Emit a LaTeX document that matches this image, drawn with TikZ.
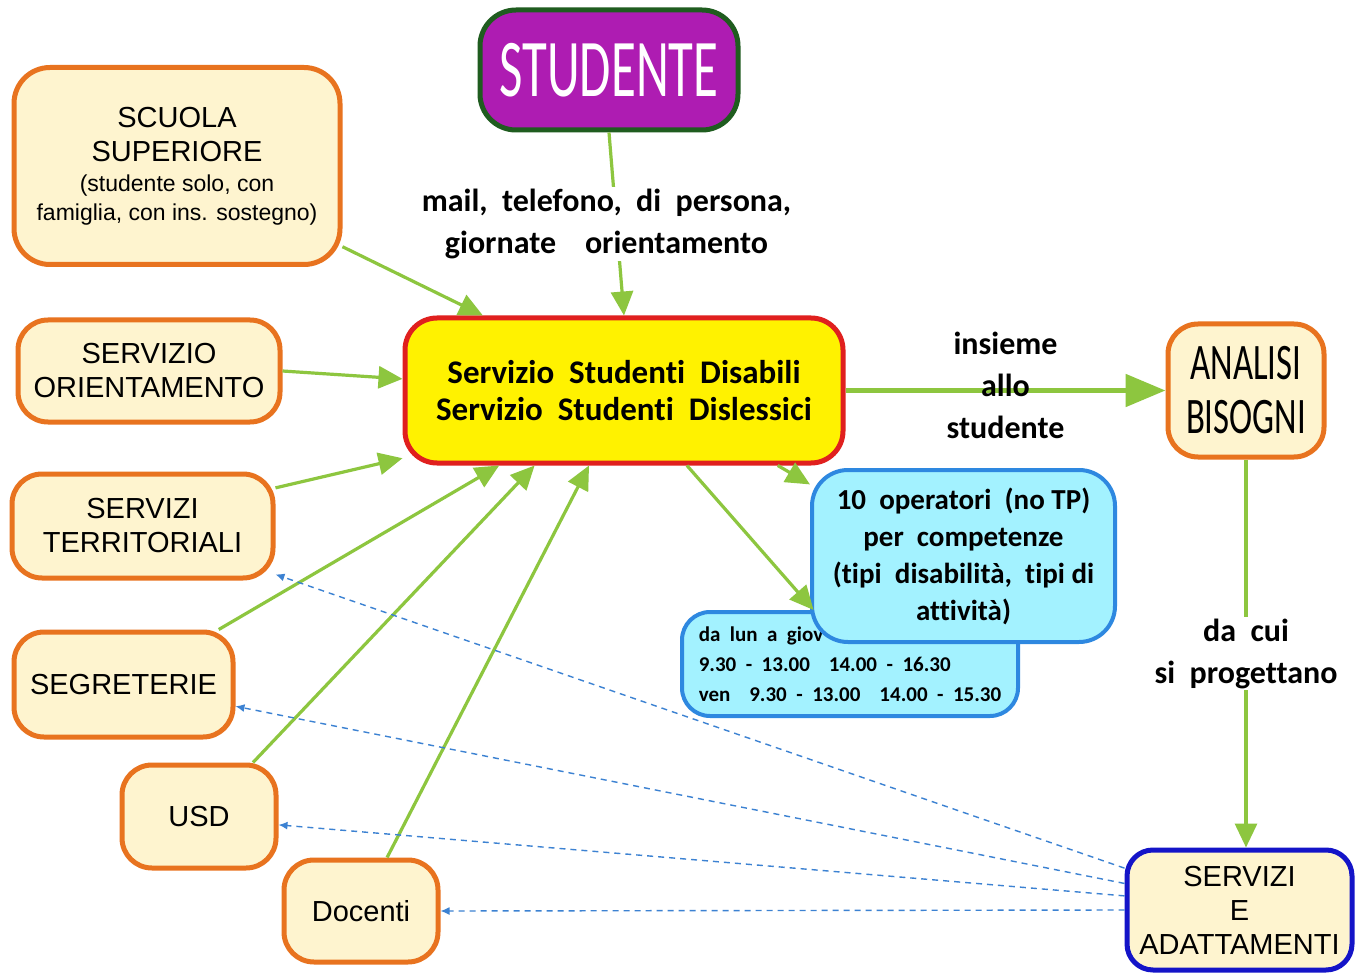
\documentclass[tikz,border=0pt]{standalone}
\usepackage{fontspec}
\usepackage{graphicx}
\setmainfont{Liberation Sans}
\newfontfamily\calibri[Ligatures=NoCommon]{Carlito}
\usetikzlibrary{arrows.meta}

\definecolor{boxcream}{HTML}{FEF4CF}
\definecolor{boxorange}{HTML}{E8731F}
\definecolor{arrowgreen}{HTML}{8DC63F}
\definecolor{dashblue}{HTML}{3C82D2}
\definecolor{studpurple}{HTML}{AE1CB2}
\definecolor{studgreen}{HTML}{1F5C1F}
\definecolor{mainred}{HTML}{E0201E}
\definecolor{cyanfill}{HTML}{A3F2FF}
\definecolor{cyanborder}{HTML}{2E88E0}
\definecolor{servblue}{HTML}{1414C8}

\newcommand{\piccolo}{\fontsize{11.5}{14}\selectfont}

\tikzset{
    entebox/.style={draw=boxorange, line width=2.5pt, fill=boxcream, rounded corners=15pt,
        align=center, inner sep=2pt, font=\fontsize{14.5}{17}\selectfont},
    flow/.style={color=arrowgreen, line width=1.6pt, -{Triangle[length=12pt,width=11pt]}},
    feedback/.style={color=dashblue, line width=0.7pt, dash pattern=on 3pt off 2.5pt,
        -{Latex[length=4.5pt,width=4pt]}},
    lbl/.style={text=black, font=\calibri\bfseries\fontsize{16}{21}\selectfont, align=center}
}

\begin{document}
\begin{tikzpicture}[x=0.5pt, y=-0.5pt]
        \useasboundingbox[fill=white] (0,0) rectangle (1355,973);

        % Studente
        \node[draw=studgreen, line width=2.5pt, fill=studpurple, rounded corners=18pt,
            minimum width=129pt, minimum height=60pt, text=white] (studente) at (609,70)
            {\scalebox{0.62}[1]{\calibri\fontsize{41}{41}\selectfont STUDENTE}};

        % Servizio centrale
        \node[draw=mainred, line width=2.5pt, fill=yellow, rounded corners=16pt,
            minimum width=219pt, minimum height=72.5pt, align=center,
            font=\calibri\bfseries\fontsize{16.5}{18.5}\selectfont] (sssd) at (624,390.5)
            {Servizio~ Studenti~ Disabili\\Servizio~ Studenti~ Dislessici};

        % Enti a sinistra
        \node[entebox, minimum width=163pt, minimum height=98.5pt, rounded corners=18pt] (scuola) at (177,166)
            {SCUOLA\\SUPERIORE\\[-2pt]\piccolo (studente solo, con\\[-2.5pt]\piccolo famiglia, con ins. sostegno)};
        \node[entebox, minimum width=131pt, minimum height=51pt] (orient) at (149,371) {SERVIZIO\\ORIENTAMENTO};
        \node[entebox, minimum width=130.5pt, minimum height=52pt] (territ) at (142.5,526) {SERVIZI\\TERRITORIALI};
        \node[entebox, minimum width=109.5pt, minimum height=52.5pt] (segr) at (123.5,684.5) {SEGRETERIE};
        \node[entebox, minimum width=77pt, minimum height=51.5pt] (usd) at (199,816.5) {USD};
        \node[entebox, minimum width=77pt, minimum height=51pt] (docenti) at (361,911) {Docenti};

        % Analisi e servizi
        \node[entebox, minimum width=78pt, minimum height=66.5pt,
            font=\calibri\fontsize{25.6}{27}\selectfont] (analisi) at (1246,390.5)
            {\scalebox{0.68}[1]{ANALISI}\\\scalebox{0.68}[1]{BISOGNI}};
        \node[entebox, draw=servblue, rounded corners=13pt, minimum width=112.5pt, minimum height=60pt] (servizi) at (1239.5,910)
            {SERVIZI\\E\\ADATTAMENTI};

        % Orari e operatori
        \node[draw=cyanborder, line width=2pt, fill=cyanfill, rounded corners=14pt,
            minimum width=168pt, minimum height=52pt, align=left,
            font=\calibri\bfseries\fontsize{10.5}{15}\selectfont] (orari) at (850,664)
            {da~ lun~ a~ giov\\9.30~ -~ 13.00~ ~ 14.00~ -~ 16.30\\ven~ ~ 9.30~ -~ 13.00~ ~ 14.00~ -~ 15.30};
        \node[draw=cyanborder, line width=2pt, fill=cyanfill, rounded corners=18pt,
            minimum width=151.5pt, minimum height=86pt, align=center,
            font=\calibri\bfseries\fontsize{14.5}{18.5}\selectfont] (operatori) at (963.5,556)
            {10~ operatori~ (no TP)\\per~ competenze\\(tipi~ disabilità,~ tipi di\\attività)};

        % Frecce verso il servizio
        \draw[flow] (studente.south) -- node[lbl, fill=white, inner sep=1pt, xshift=-5pt]
            {mail,~ telefono,~ di~ persona,\\giornate~ ~ orientamento} (sssd.north);
        \draw[flow] (scuola.-26.7) -- (sssd.152.5);
        \draw[flow] (orient.east) -- (sssd.177.3);
        \draw[flow] (territ.16.2) -- (sssd.-163.8);
        \draw[flow] (segr.30.4) -- (sssd.-149.7);
        \draw[flow] (usd.45.3) -- (sssd.-140.8);
        \draw[flow] (docenti.64.8) -- (sssd.-115.1);

        % Frecce in uscita
        \draw[flow] (sssd.-26.4) -- (operatori.155);
        \draw[flow] (sssd.-50.9) -- (orari.124);
        \draw[flow, line width=2.6pt, -{Triangle[length=20pt,width=16pt]}] (sssd.east) --
            node[lbl, yshift=2.5pt] {insieme\\allo\\studente} (analisi.west);
        \draw[flow] (analisi.south) -- node[lbl, fill=white, inner sep=1pt]
            {da~ cui\\si~ progettano} (analisi.south |- servizi.north);

        % Ritorno ai servizi
        \draw[feedback] (servizi.160.4) -- (territ.-20.2);
        \draw[feedback] (servizi.167.5) -- (segr.-11.6);
        \draw[feedback] (servizi.173.9) -- (usd.-6.3);
        \draw[feedback] (servizi.180) -- (docenti.east);

    \end{tikzpicture}
\end{document}
